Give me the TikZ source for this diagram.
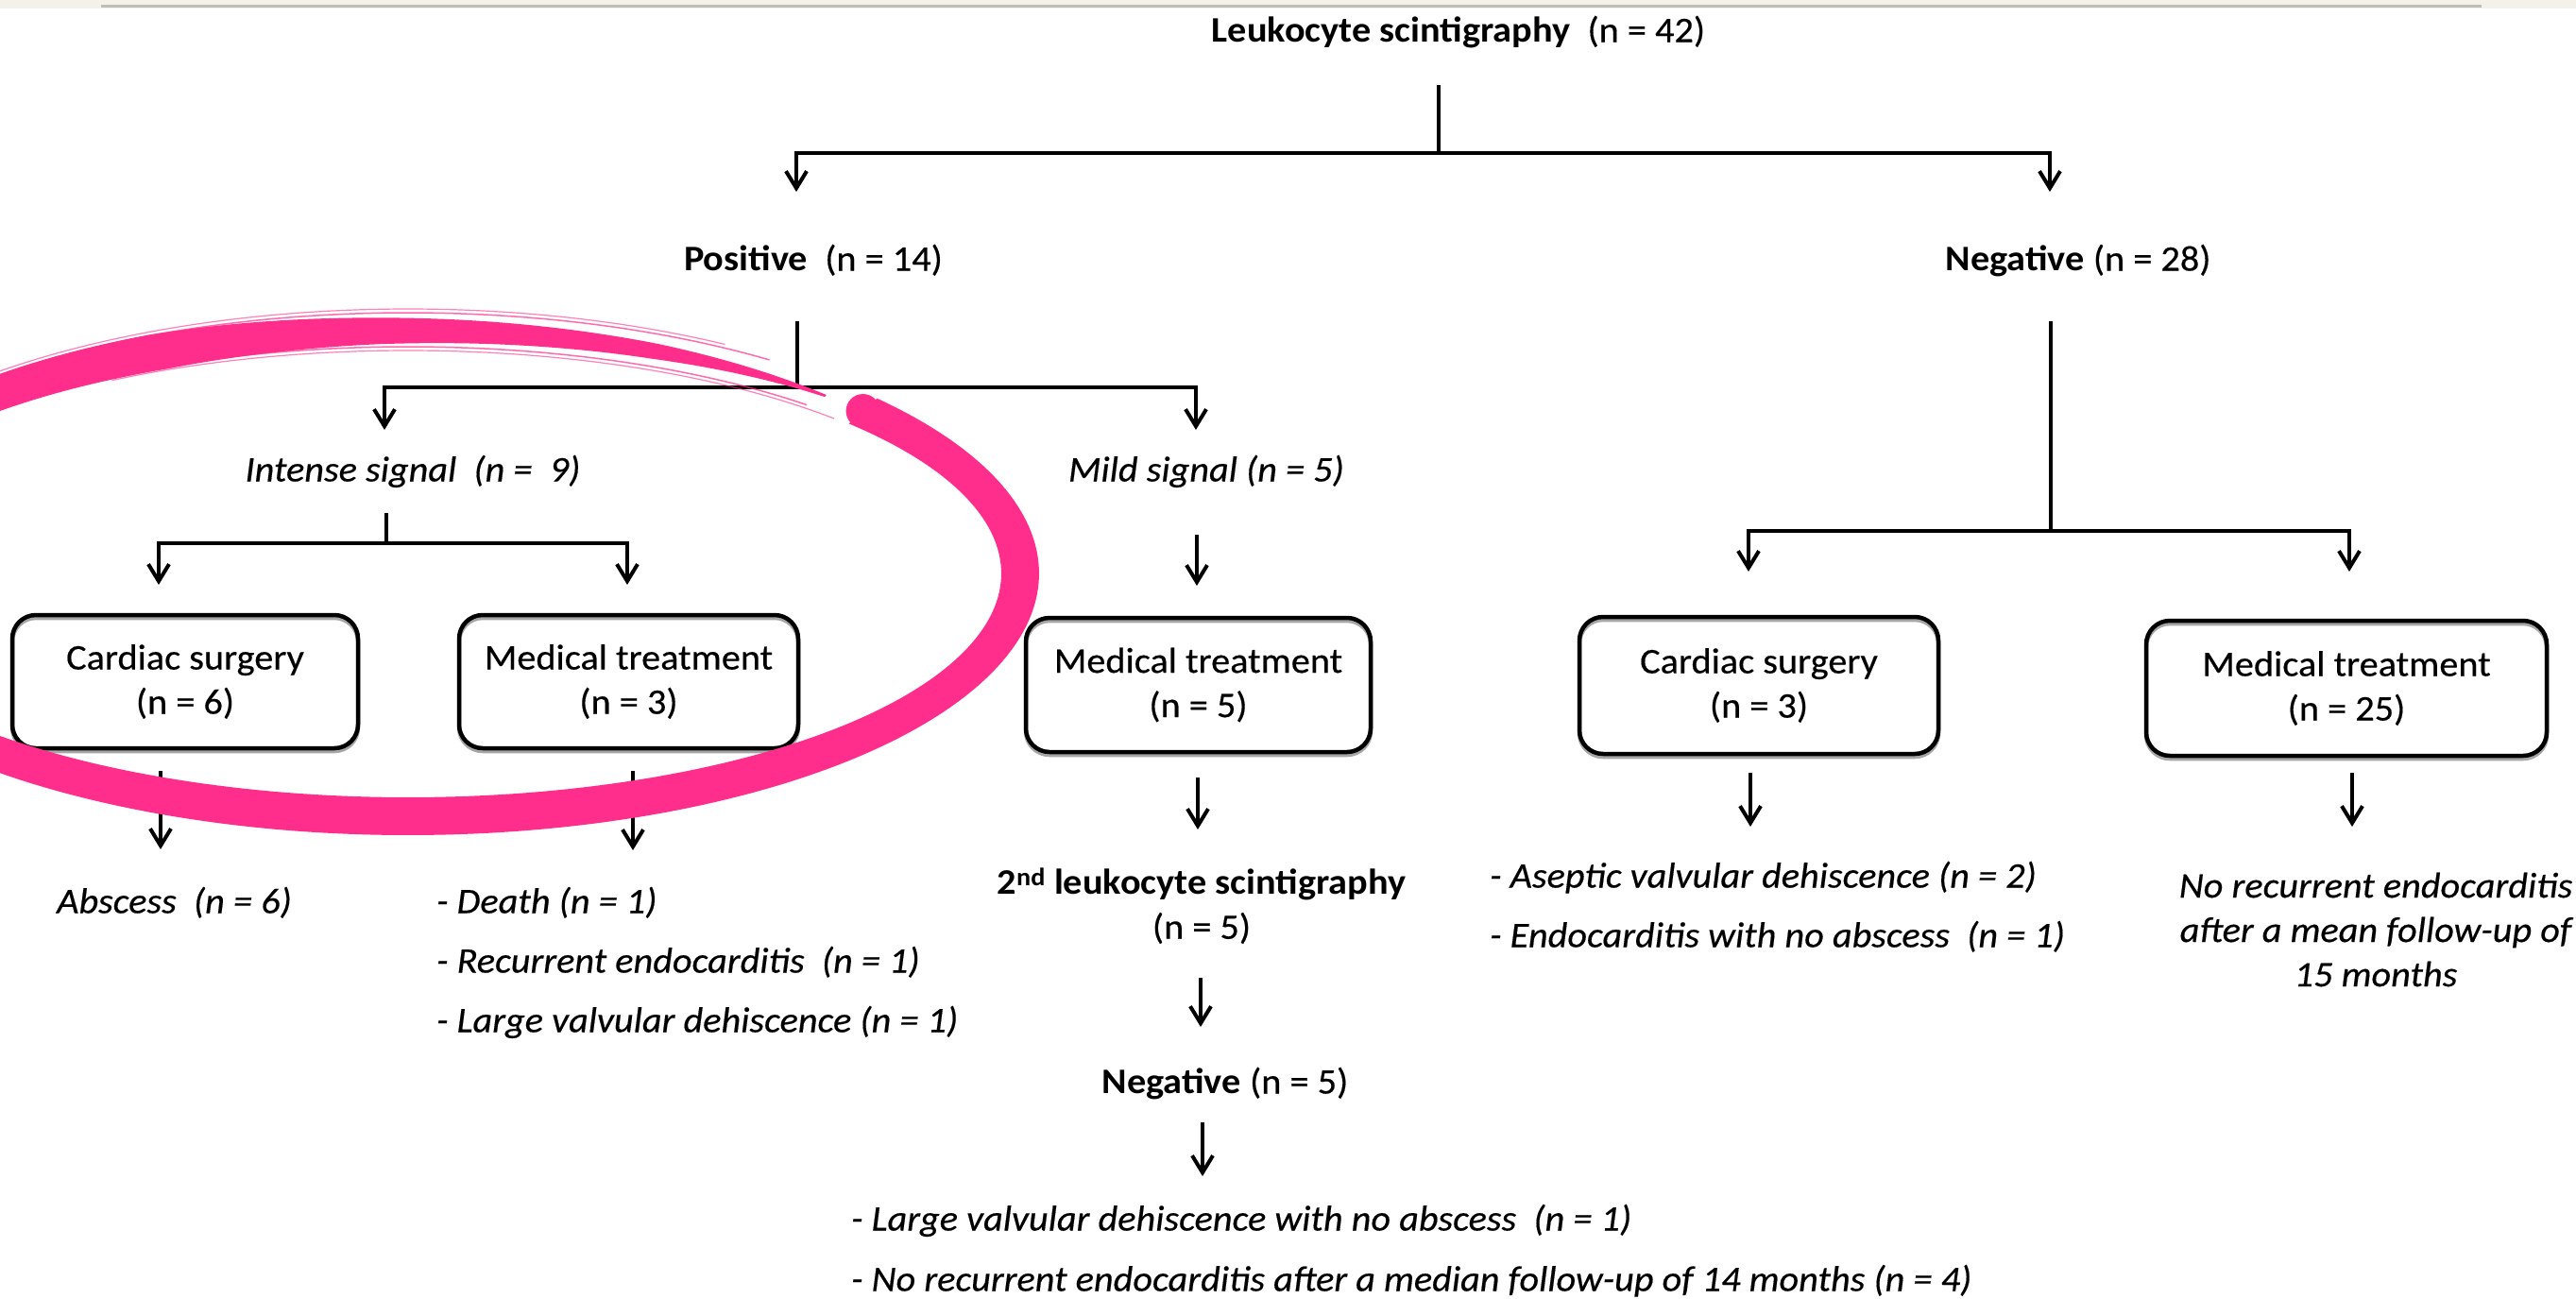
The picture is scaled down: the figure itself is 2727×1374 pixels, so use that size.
\documentclass[tikz,border=0pt]{standalone}
\usepackage{fontspec}
\setmainfont{Carlito}[FakeStretch=1.06,
  UprightFeatures={FakeBold=0.4},
  ItalicFeatures={FakeBold=0.4}]
\usetikzlibrary{arrows.meta}
\definecolor{pagetint}{HTML}{F3F1EA}
\definecolor{rulegrey}{HTML}{BEBEB6}
\definecolor{markpink}{HTML}{FF2D8C}

\begin{document}
\begin{tikzpicture}[x=1pt,y=-1pt,
  txt/.style={font=\fontsize{38}{47}\selectfont, inner sep=0pt, text height=28.5pt, text depth=9.5pt},
  itxt/.style={font=\fontsize{38}{47}\selectfont\itshape, inner sep=0pt, text height=28.5pt, text depth=9.5pt},
  blocktxt/.style={font=\fontsize{38}{47}\selectfont, inner sep=0pt, align=center},
  iblocktxt/.style={font=\fontsize{38}{47}\selectfont\itshape, inner sep=0pt, align=center},
  stepbox/.style={draw, line width=4.5pt, rounded corners=25pt, align=center,
                  inner sep=0pt, font=\fontsize{38}{47}\selectfont,
                  preaction={draw=black!35, line width=4.5pt, transform canvas={yshift=-3pt}}},
  link/.style={line width=4pt},
  arr/.style={line width=4pt, -{Straight Barb[length=18pt,width=22pt]}},
  dualarr/.style={line width=4pt, {Straight Barb[length=18pt,width=22pt]}-{Straight Barb[length=18pt,width=22pt]}},
  % brush width along the ring, by angle
  declare function={bw(\t)=(\t>-246)*40
      + (\t<=-246)*(\t>-267)*(40-(-246-\t)*0.571)
      + (\t<=-267)*(\t>-294)*(28-(-267-\t)*0.407)
      + (\t<=-294)*max(2,17-(-294-\t)*0.75);
    ringx(\t,\r)=432+(648+\r)*cos(\t);
    ringy(\t,\r)=607-(257+\r)*sin(\t);}
]
\useasboundingbox (0,0) rectangle (2727,1374);
\fill[white] (0,0) rectangle (2727,1374);
% page header strip
\fill[pagetint] (0,0) rectangle (2727,8.5);
\draw[rulegrey, line width=3pt] (107,6.5) -- (2627,6.5);

% ---- nodes ----
\node[txt] (root) at (1544,35) {\textbf{Leukocyte scintigraphy}~~(n = 42)};
\node[txt] (pos) at (861,277) {\textbf{Positive}~~(n = 14)};
\node[txt] (neg) at (2200,277) {\textbf{Negative} (n = 28)};
\node[itxt] (intense) at (437,500) {Intense signal~~(n =~~9)};
\node[itxt] (mild) at (1277,500) {Mild signal (n = 5)};

\node[stepbox, minimum width=366pt, minimum height=141pt] (cs1) at (196,721.5) {Cardiac surgery\\(n = 6)};
\node[stepbox, minimum width=359pt, minimum height=141pt] (mt1) at (665.5,721.5) {Medical treatment\\(n = 3)};
\node[stepbox, minimum width=365pt, minimum height=142pt] (mt2) at (1268.5,725) {Medical treatment\\(n = 5)};
\node[stepbox, minimum width=380pt, minimum height=145pt] (cs2) at (1862,725.5) {Cardiac surgery\\(n = 3)};
\node[stepbox, minimum width=424pt, minimum height=143pt] (mt3) at (2484,728.5) {Medical treatment\\(n = 25)};

\node[itxt, anchor=west] (abscess) at (60,957) {Abscess~~(n = 6)};
\node[itxt, anchor=west] (d1) at (462,957) {- Death (n = 1)};
\node[itxt, anchor=west] (d2) at (462,1020) {- Recurrent endocarditis~~(n = 1)};
\node[itxt, anchor=west] (d3) at (462,1083) {- Large valvular dehiscence (n = 1)};

\node[blocktxt] (scint2) at (1272,959) {\textbf{2\textsuperscript{nd} leukocyte scintigraphy}\\(n = 5)};
\node[txt] (neg5) at (1297,1148) {\textbf{Negative} (n = 5)};
\node[itxt, anchor=west] (f1) at (901,1293) {- Large valvular dehiscence with no abscess~~(n = 1)};
\node[itxt, anchor=west] (f2) at (901,1357) {- No recurrent endocarditis after a median follow-up of 14 months (n = 4)};

\node[itxt, anchor=west] (a1) at (1577,930) {- Aseptic valvular dehiscence (n = 2)};
\node[itxt, anchor=west] (a2) at (1577,993) {- Endocarditis with no abscess~~(n = 1)};
\node[iblocktxt] (nr) at (2515,984) {No recurrent endocarditis\\after a mean follow-up of\\15 months};

% ---- junction points ----
\coordinate (r0) at (1523,90);   \coordinate (r1) at (1523,162);
\coordinate (rl) at (843,162);   \coordinate (rr) at (2170,162);
\coordinate (rlt) at (843,203);  \coordinate (rrt) at (2170,203);

\coordinate (p0) at (844,340);   \coordinate (p1) at (844,410);
\coordinate (pl) at (407,410);   \coordinate (pr) at (1266,410);
\coordinate (plt) at (407,455);  \coordinate (prt) at (1266,455);

\coordinate (n0) at (2171,340);  \coordinate (n1) at (2171,562);
\coordinate (nl) at (1851,562);  \coordinate (nr0) at (2487,562);
\coordinate (nlt) at (1851,605); \coordinate (nrt) at (2487,605);

\coordinate (i0) at (409,543);   \coordinate (i1) at (409,575);
\coordinate (il) at (168,575);   \coordinate (ir) at (664,575);
\coordinate (ilt) at (168,619);  \coordinate (irt) at (664,619);

\coordinate (m0) at (1267,566);  \coordinate (m1) at (1267,620);
\coordinate (c1a) at (170,816);  \coordinate (c1b) at (170,899);
\coordinate (t1a) at (670,816);  \coordinate (t1b) at (670,900);
\coordinate (t2a) at (1268,823); \coordinate (t2b) at (1268,878);
\coordinate (c2a) at (1853,818); \coordinate (c2b) at (1853,875);
\coordinate (t3a) at (2490,818); \coordinate (t3b) at (2490,875);
\coordinate (s0) at (1271,1035); \coordinate (s1) at (1271,1087);
\coordinate (g0) at (1273,1188); \coordinate (g1) at (1273,1245);

% ---- connectors ----
\draw[link] (r0) -- (r1);
\draw[dualarr] (rlt) -- (rl) -- (rr) -- (rrt);
\draw[link] (p0) -- (p1);
\draw[dualarr] (plt) -- (pl) -- (pr) -- (prt);
\draw[link] (n0) -- (n1);
\draw[dualarr] (nlt) -- (nl) -- (nr0) -- (nrt);
\draw[link] (i0) -- (i1);
\draw[dualarr] (ilt) -- (il) -- (ir) -- (irt);
\draw[arr] (m0) -- (m1);
\draw[arr] (c1a) -- (c1b);
\draw[arr] (t1a) -- (t1b);
\draw[arr] (t2a) -- (t2b);
\draw[arr] (c2a) -- (c2b);
\draw[arr] (t3a) -- (t3b);
\draw[arr] (s0) -- (s1);
\draw[arr] (g0) -- (g1);

% ---- hand-drawn highlight ring ----
\fill[markpink]
  plot[domain=-313:42, samples=260] ({ringx(\x,bw(\x)/2)}, {ringy(\x,bw(\x)/2)})
  -- plot[domain=-313:42, samples=260] ({ringx(-271-\x,-bw(-271-\x)/2)}, {ringy(-271-\x,-bw(-271-\x)/2)})
  -- cycle;
\fill[markpink] ({ringx(42,0)}, {ringy(42,0)}) circle (18pt);
% brush bristle streaks
\draw[markpink, line width=1.5pt, opacity=0.7]
  plot[domain=-305:-200, samples=80] ({ringx(\x,19)}, {ringy(\x,19)});
\draw[markpink, line width=1.2pt, opacity=0.6]
  plot[domain=-300:-215, samples=80] ({ringx(\x,23)}, {ringy(\x,23)});
\draw[markpink, line width=1.5pt, opacity=0.7]
  plot[domain=-312:-225, samples=80] ({ringx(\x,-17)}, {ringy(\x,-17)});
\draw[markpink, line width=1.2pt, opacity=0.6]
  plot[domain=-316:-240, samples=80] ({ringx(\x,-21)}, {ringy(\x,-21)});
\end{tikzpicture}
\end{document}
